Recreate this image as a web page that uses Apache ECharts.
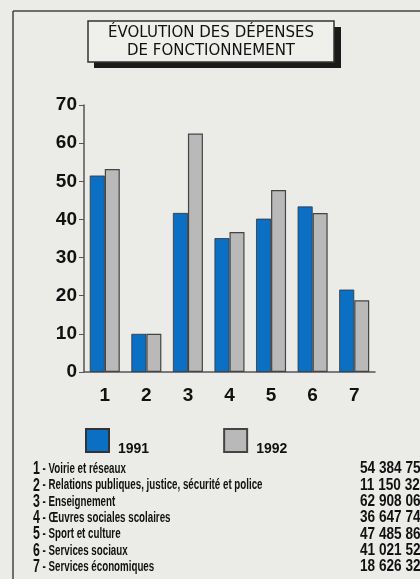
<!DOCTYPE html>
<html>
<head>
<meta charset="utf-8">
<script src="https://cdn.jsdelivr.net/npm/echarts@6/dist/echarts.min.js"></script>
<style>
  html, body { margin: 0; padding: 0; background: #ebebe8; }
  #chart { width: 420px; height: 579px; }
</style>
</head>
<body>
<div id="chart"></div>
<script>
var categories = ['1', '2', '3', '4', '5', '6', '7'];
var years = ['1991', '1992'];
var v1991 = [51.5, 10, 41.7, 35.1, 40.2, 43.4, 21.6];
var v1992 = [53.2, 10, 62.5, 36.7, 47.7, 41.7, 18.8];
var yTicks = [0, 10, 20, 30, 40, 50, 60, 70];
var labels = [
    'Voirie et réseaux',
    'Relations publiques, justice, sécurité et police',
    'Enseignement',
    'Œuvres sociales scolaires',
    'Sport et culture',
    'Services sociaux',
    'Services économiques'
];
var amounts = ['54 384 752', '11 150 321', '62 908 062', '36 647 742', '47 485 861', '41 021 526', '18 626 323'];

var bold = '"Liberation Sans", Arial, sans-serif';
var blue = '#0b6fc3';
var grey = '#b9b9b9';

var graphics = [
    // cadre
    { type: 'line', shape: { x1: 13, y1: 11, x2: 420, y2: 11 }, style: { stroke: '#444', lineWidth: 1.5 } },
    { type: 'line', shape: { x1: 13, y1: 11, x2: 13, y2: 579 }, style: { stroke: '#444', lineWidth: 1.5 } },
    // titre
    { type: 'rect', shape: { x: 94, y: 27, width: 247, height: 41 }, style: { fill: '#1a1a1a' } },
    { type: 'rect', shape: { x: 88, y: 21, width: 246, height: 41 }, style: { fill: '#efefec', stroke: '#333', lineWidth: 1.5 } },
    {
        type: 'text', x: 211, y: 42,
        style: {
            text: 'ÉVOLUTION DES DÉPENSES\nDE FONCTIONNEMENT',
            font: '15px "DejaVu Sans", sans-serif', fill: '#111',
            align: 'center', verticalAlign: 'middle', lineHeight: 18
        }
    }
];

labels.forEach(function(txt, i) {
    graphics.push({
        type: 'text', x: 33, y: 469 + i * 16.3, scaleX: 0.65,
        style: {
            text: '{n|' + categories[i] + '} - ' + txt,
            font: 'bold 15px ' + bold, fill: '#111', verticalAlign: 'middle',
            rich: { n: { font: 'bold 19px ' + bold, fill: '#111' } }
        }
    });
    graphics.push({
        type: 'text', x: 360, y: 469 + i * 16.3, scaleX: 0.85,
        style: { text: amounts[i], font: 'bold 16px ' + bold, fill: '#111', verticalAlign: 'middle' }
    });
});

var option = {
    animation: false,
    backgroundColor: '#ebebe8',
    grid: { left: 84, right: 45, top: 105, bottom: 207, containLabel: false },
    legend: {
        data: years,
        left: 85, top: 428, padding: 0,
        itemWidth: 23, itemHeight: 23, itemGap: 74,
        icon: 'rect',
        formatter: '{a|{name}}',
        textStyle: {
            fontFamily: bold, fontWeight: 'bold', fontSize: 14, color: '#111',
            rich: {
                a: {
                    fontFamily: bold, fontWeight: 'bold', fontSize: 14, color: '#111',
                    padding: [18, 0, 0, 4]
                }
            }
        }
    },
    xAxis: {
        type: 'category',
        data: categories,
        axisLine: { lineStyle: { color: '#555', width: 1.5 } },
        axisTick: { length: 4, lineStyle: { color: '#555' } },
        axisLabel: { margin: 14, fontFamily: bold, fontWeight: 'bold', fontSize: 19, color: '#111' },
        splitLine: { show: false }
    },
    yAxis: {
        type: 'value',
        min: 0, max: 70, interval: 10,
        axisLine: { show: true, lineStyle: { color: '#555', width: 1.5 } },
        axisTick: { show: true, length: 5, lineStyle: { color: '#555' } },
        axisLabel: {
            margin: 7, fontFamily: bold, fontWeight: 'bold', fontSize: 19, color: '#111',
            formatter: function(v) { return yTicks.indexOf(v) >= 0 ? v : ''; }
        },
        splitLine: { show: false }
    },
    series: [{
        name: years[0], type: 'bar', data: v1991,
        barWidth: 15, barGap: '0%',
        itemStyle: { color: blue, borderColor: '#333', borderWidth: 0.8 }
    }, {
        name: years[1], type: 'bar', data: v1992,
        barWidth: 15,
        itemStyle: { color: grey, borderColor: '#444', borderWidth: 1.2 }
    }],
    graphic: graphics
};

echarts.init(document.getElementById('chart')).setOption(option);
</script>
</body>
</html>
